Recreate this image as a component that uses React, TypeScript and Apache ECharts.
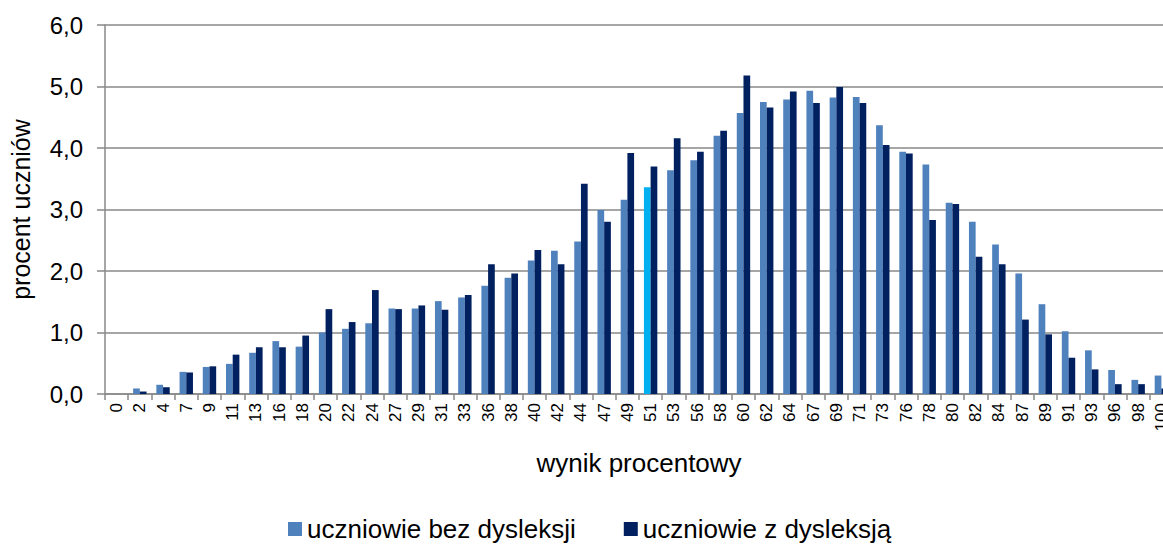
import React, { useEffect, useRef } from "react";
import * as echarts from "echarts";

const categories = ["0","2","4","7","9","11","13","16","18","20","22","24","27","29","31","33","36","38","40","42","44","47","49","51","53","56","58","60","62","64","67","69","71","73","76","78","80","82","84","87","89","91","93","96","98","100"];

const withoutDyslexia = [0, 0.09, 0.15, 0.36, 0.44, 0.49, 0.67, 0.86, 0.77, 1.0, 1.06, 1.15, 1.39, 1.39, 1.51, 1.57, 1.76, 1.89, 2.17, 2.33, 2.48, 2.99, 3.16, 3.36, 3.64, 3.8, 4.2, 4.57, 4.75, 4.79, 4.93, 4.82, 4.83, 4.37, 3.94, 3.73, 3.11, 2.8, 2.43, 1.96, 1.46, 1.02, 0.71, 0.39, 0.23, 0.3];

const withDyslexia = [0, 0.04, 0.11, 0.35, 0.45, 0.64, 0.76, 0.76, 0.95, 1.38, 1.17, 1.69, 1.38, 1.44, 1.37, 1.61, 2.11, 1.96, 2.34, 2.11, 3.42, 2.8, 3.92, 3.7, 4.16, 3.94, 4.28, 5.18, 4.66, 4.92, 4.73, 4.99, 4.73, 4.05, 3.91, 2.83, 3.09, 2.23, 2.11, 1.21, 0.97, 0.59, 0.4, 0.16, 0.16, 0.09];

const seriesNames = ["uczniowie bez dysleksji", "uczniowie z dysleksją"];
const highlightCategory = "51";
const yTicks = [0, 1, 2, 3, 4, 5, 6];

const FONT = '"Liberation Sans", Arial, sans-serif';
const LIGHT = "#4F81BD";
const DARK = "#002060";
const CYAN = "#00B0F0";
const GRAY = "#898989";

export default function App() {
  const ref = useRef<HTMLDivElement>(null);
  useEffect(() => {
    if (!ref.current) return;
    const chart = echarts.init(ref.current, undefined, { renderer: "svg" });
    const lightData = withoutDyslexia.map((v, i) =>
      categories[i] === highlightCategory ? { value: v, itemStyle: { color: CYAN } } : v
    );
    chart.setOption({
      animation: false,
      textStyle: { fontFamily: FONT },
      grid: { left: 104, top: 25, right: 0, bottom: 150, containLabel: false },
      legend: {
        left: 283,
        top: 511,
        itemWidth: 14,
        itemHeight: 14,
        itemGap: 48,
        icon: "rect",
        textStyle: { fontSize: 26, color: "#000", fontFamily: FONT },
        data: seriesNames,
      },
      xAxis: {
        type: "category",
        data: categories,
        boundaryGap: true,
        name: "wynik procentowy",
        nameLocation: "middle",
        nameGap: 56,
        nameTextStyle: { fontSize: 26, color: "#000", fontFamily: FONT },
        axisLine: { show: true, lineStyle: { color: GRAY, width: 1.5 } },
        axisTick: { show: true, length: 6, lineStyle: { color: GRAY, width: 1.5 } },
        axisLabel: { interval: 0, rotate: 90, fontSize: 17, color: "#000", margin: 9, fontFamily: FONT },
        splitLine: { show: false },
      },
      yAxis: {
        type: "value",
        min: yTicks[0],
        max: yTicks[yTicks.length - 1],
        interval: 1,
        name: "procent uczniów",
        nameLocation: "middle",
        nameGap: 72,
        nameTextStyle: { fontSize: 25, color: "#000", fontFamily: FONT },
        axisLine: { show: true, lineStyle: { color: GRAY, width: 1.5 } },
        axisTick: { show: true, length: 8, lineStyle: { color: GRAY, width: 1.5 } },
        axisLabel: {
          fontSize: 24,
          color: "#000",
          margin: 22,
          fontFamily: FONT,
          formatter: (v: number) => v.toFixed(1).replace(".", ","),
        },
        splitLine: { show: true, lineStyle: { color: GRAY, width: 1.5 } },
      },
      series: [
        {
          name: seriesNames[0],
          type: "bar",
          data: lightData,
          barWidth: 6.7,
          barGap: "0%",
          itemStyle: { color: LIGHT },
        },
        {
          name: seriesNames[1],
          type: "bar",
          data: withDyslexia,
          barWidth: 6.7,
          barGap: "0%",
          itemStyle: { color: DARK },
        },
      ],
    });
    return () => chart.dispose();
  }, []);
  return (
    <div
      style={{ position: "fixed", left: 0, top: 0, width: 1163, height: 544, overflow: "hidden", background: "#fff" }}
    >
      <div ref={ref} style={{ width: 1173, height: 544 }} />
    </div>
  );
}
